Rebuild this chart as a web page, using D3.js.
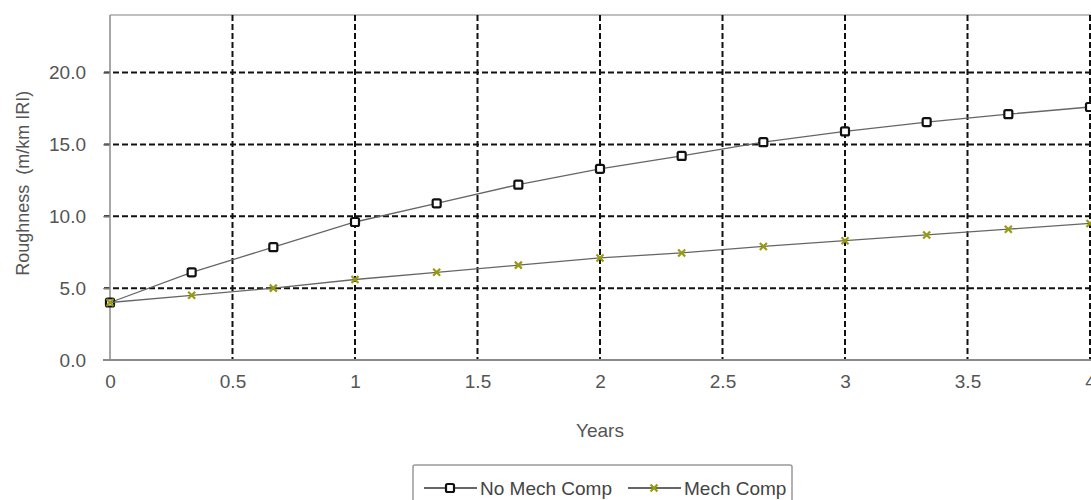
<!DOCTYPE html>
<html>
<head>
<meta charset="utf-8">
<script src="https://cdn.jsdelivr.net/npm/d3@7"></script>
<style>
  body { margin: 0; background: #fff; }
  svg { display: block; }
</style>
</head>
<body>
<svg id="chart"></svg>
<script>
// Years (every 4 months) and roughness values
const years = [0, 1/3, 2/3, 1, 4/3, 5/3, 2, 7/3, 8/3, 3, 10/3, 11/3, 4];
const noMechComp = [4.0, 6.1, 7.85, 9.6, 10.9, 12.2, 13.3, 14.2, 15.15, 15.9, 16.55, 17.1, 17.6];
const mechComp = [4.0, 4.5, 5.0, 5.6, 6.1, 6.6, 7.1, 7.45, 7.9, 8.3, 8.7, 9.1, 9.5];
const xTicks = [0, 0.5, 1, 1.5, 2, 2.5, 3, 3.5, 4];
const yTicks = [0, 5, 10, 15, 20];
const seriesNames = ["No Mech Comp", "Mech Comp"];

const dims = {
    width: 1091,
    height: 500,
    marginLeft: 110,
    marginRight: 1,
    marginTop: 15,
    marginBottom: 140
};

const svg = d3.select("#chart")
    .attr("width", dims.width)
    .attr("height", dims.height);

const x = d3.scaleLinear()
    .domain([0, 4])
    .range([dims.marginLeft, dims.width - dims.marginRight]);

const y = d3.scaleLinear()
    .domain([0, 24])
    .range([dims.height - dims.marginBottom, dims.marginTop]);

const axisGray = "#8a8a8a";
const textGray = "#555";
const font = "Liberation Sans, Arial, sans-serif";

// top border of plot area
svg.append("line")
    .attr("x1", x(0)).attr("x2", dims.width)
    .attr("y1", y(24)).attr("y2", y(24))
    .attr("stroke", "#aaa")
    .attr("stroke-width", 1.5);

// horizontal dashed grid
svg.append("g")
    .selectAll("line")
    .data(yTicks.filter(d => d > 0))
    .join("line")
    .attr("x1", x(0) - 6).attr("x2", dims.width)
    .attr("y1", d => y(d)).attr("y2", d => y(d))
    .attr("stroke", "#111")
    .attr("stroke-width", 2)
    .attr("stroke-dasharray", "6,3");

// vertical dashed grid
svg.append("g")
    .selectAll("line")
    .data(xTicks.filter(d => d > 0))
    .join("line")
    .attr("x1", d => x(d)).attr("x2", d => x(d))
    .attr("y1", y(24)).attr("y2", y(0))
    .attr("stroke", "#111")
    .attr("stroke-width", 2)
    .attr("stroke-dasharray", "6,3");

// y axis
const yAxis = g => g
    .attr("transform", `translate(${dims.marginLeft}, 0)`)
    .call(d3.axisLeft(y).tickValues(yTicks).tickFormat(d3.format(".1f")).tickSize(7).tickPadding(17))
    .call(g => g.select(".domain").attr("stroke", axisGray).attr("stroke-width", 1.5)
        .attr("d", `M0,${y(24)}V${y(0)}`))
    .call(g => g.selectAll(".tick line").attr("stroke", axisGray))
    .call(g => g.selectAll(".tick text")
        .attr("fill", textGray)
        .style("font-size", "19px")
        .style("font-family", font));

// x axis
const xAxis = g => g
    .attr("transform", `translate(0, ${y(0)})`)
    .call(d3.axisBottom(x).tickValues(xTicks).tickFormat(d3.format("")).tickSize(0).tickPadding(15))
    .call(g => g.select(".domain").attr("stroke", axisGray).attr("stroke-width", 2)
        .attr("d", `M${x(0) - 7},0H${dims.width}`))
    .call(g => g.selectAll(".tick text")
        .attr("fill", textGray)
        .style("font-size", "19px")
        .style("font-family", font));

svg.append("g").call(yAxis);
svg.append("g").call(xAxis);

// axis titles
svg.append("text")
    .attr("x", (x(0) + x(4)) / 2)
    .attr("y", 437)
    .attr("text-anchor", "middle")
    .attr("fill", textGray)
    .style("font-size", "19px")
    .style("font-family", font)
    .text("Years");

svg.append("text")
    .attr("transform", `translate(29, ${y(12.3)}) rotate(-90)`)
    .attr("text-anchor", "middle")
    .attr("fill", textGray)
    .style("font-size", "18px")
    .style("font-family", font)
    .attr("xml:space", "preserve")
    .text("Roughness  (m/km IRI)");

// lines
const line = d3.line()
    .x(d => x(d[0]))
    .y(d => y(d[1]));

const olive = "#9a9a10";

const series = [
    { name: seriesNames[0], values: noMechComp, marker: "square" },
    { name: seriesNames[1], values: mechComp, marker: "cross" }
];

function drawMarker(g, type, cx, cy) {
    if (type === "square") {
        g.append("rect")
            .attr("x", cx - 4).attr("y", cy - 4)
            .attr("width", 8).attr("height", 8)
            .attr("rx", 1.5)
            .attr("fill", "#fff")
            .attr("stroke", "#111")
            .attr("stroke-width", 2.2);
    } else {
        g.append("path")
            .attr("d", `M${cx - 3.5},${cy - 3.5}L${cx + 3.5},${cy + 3.5}M${cx - 3.5},${cy + 3.5}L${cx + 3.5},${cy - 3.5}`)
            .attr("stroke", olive)
            .attr("stroke-width", 2.2);
    }
}

series.forEach(s => {
    const pts = years.map((yr, i) => [yr, s.values[i]]);
    const g = svg.append("g");
    g.append("path")
        .datum(pts)
        .attr("fill", "none")
        .attr("stroke", "#666")
        .attr("stroke-width", 1.3)
        .attr("d", line);
    pts.forEach(p => drawMarker(g, s.marker, x(p[0]), y(p[1])));
});

// legend
const legend = svg.append("g");
legend.append("rect")
    .attr("x", 413).attr("y", 465)
    .attr("width", 379).attr("height", 50)
    .attr("rx", 2)
    .attr("fill", "#fff")
    .attr("stroke", "#999")
    .attr("stroke-width", 1.5);

const legendItems = [
    { name: seriesNames[0], marker: "square", x0: 424 },
    { name: seriesNames[1], marker: "cross", x0: 628 }
];
legendItems.forEach(it => {
    legend.append("line")
        .attr("x1", it.x0).attr("x2", it.x0 + 53)
        .attr("y1", 488).attr("y2", 488)
        .attr("stroke", "#333")
        .attr("stroke-width", 1.3);
    drawMarker(legend, it.marker, it.x0 + 26, 488);
    legend.append("text")
        .attr("x", it.x0 + 56)
        .attr("y", 495)
        .attr("fill", "#444")
        .style("font-size", "19px")
        .style("font-family", font)
        .text(it.name);
});
</script>
</body>
</html>
